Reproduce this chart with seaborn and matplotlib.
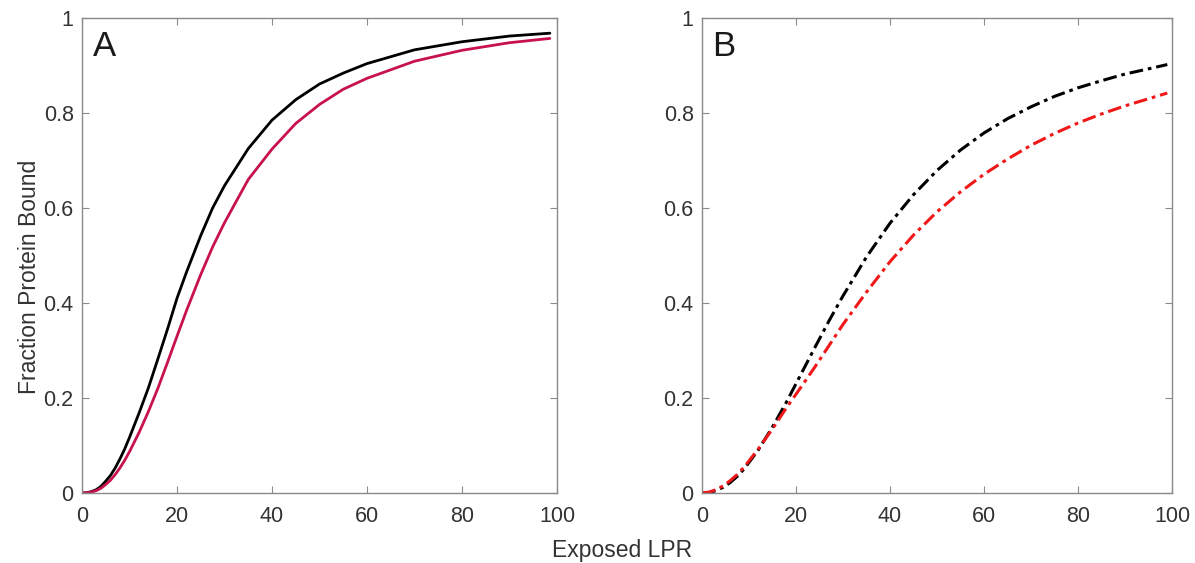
import matplotlib
matplotlib.use("Agg")
import matplotlib.pyplot as plt
import seaborn as sns
import pandas as pd

# Panel A: fraction bound vs exposed LPR (solid curves)
lpr_a = [0, 1, 2, 3, 4, 5, 6, 7, 8, 9, 10, 12, 14, 16, 18, 20, 22, 25, 27.5,
         30, 35, 40, 45, 50, 55, 60, 70, 80, 90, 98.5]
bound_a_black = [0, 0.0005, 0.003, 0.007, 0.014, 0.025, 0.037, 0.053, 0.072,
                 0.093, 0.117, 0.168, 0.222, 0.283, 0.345, 0.41, 0.465, 0.542,
                 0.6, 0.647, 0.725, 0.785, 0.828, 0.861, 0.884, 0.904, 0.933,
                 0.95, 0.962, 0.968]
bound_a_red = [0, 0.0003, 0.002, 0.005, 0.01, 0.018, 0.027, 0.039, 0.053,
               0.069, 0.087, 0.127, 0.172, 0.221, 0.275, 0.33, 0.384, 0.46,
               0.518, 0.569, 0.66, 0.724, 0.778, 0.818, 0.85, 0.873, 0.909,
               0.932, 0.948, 0.957]

# Panel B: fraction bound vs exposed LPR (dash-dot curves)
lpr_b = [0, 1.5, 3, 4.5, 6, 7.5, 9, 12, 15, 18, 21, 24, 27, 30, 35, 40, 45, 50,
         55, 60, 65, 70, 75, 80, 85, 90, 95, 99]
bound_b_black = [0, 0.001, 0.005, 0.012, 0.022, 0.035, 0.051, 0.091, 0.139,
                 0.192, 0.249, 0.306, 0.362, 0.415, 0.497, 0.568, 0.628, 0.679,
                 0.722, 0.758, 0.788, 0.813, 0.835, 0.853, 0.868, 0.882, 0.893,
                 0.902]
bound_b_red = [0, 0.002, 0.007, 0.015, 0.026, 0.039, 0.055, 0.093, 0.135,
               0.18, 0.222, 0.265, 0.31, 0.355, 0.423, 0.487, 0.543, 0.592,
               0.634, 0.671, 0.703, 0.732, 0.757, 0.779, 0.798, 0.815, 0.83,
               0.842]

x_ticks = [0, 20, 40, 60, 80, 100]
y_ticks = [0, 0.2, 0.4, 0.6, 0.8, 1]
y_tick_labels = ["0", "0.2", "0.4", "0.6", "0.8", "1"]
panel_letters = ["A", "B"]
x_label = "Exposed LPR"
y_label = "Fraction Protein Bound"

sns.set_theme(style="white")
plt.rcParams["font.family"] = ["Liberation Sans", "DejaVu Sans"]

W, H = 1195, 563
fig = plt.figure(figsize=(W / 100, H / 100), dpi=100)
ax_a = fig.add_axes([82 / W, (H - 493) / H, 475 / W, 475 / H])
ax_b = fig.add_axes([702 / W, (H - 493) / H, 470 / W, 475 / H])

df_a = pd.DataFrame({"lpr": lpr_a, "black": bound_a_black, "red": bound_a_red})
df_b = pd.DataFrame({"lpr": lpr_b, "black": bound_b_black, "red": bound_b_red})

sns.lineplot(data=df_a, x="lpr", y="black", ax=ax_a, color="black",
             linewidth=2.0, estimator=None, sort=False)
sns.lineplot(data=df_a, x="lpr", y="red", ax=ax_a, color="#c8124c",
             linewidth=2.0, estimator=None, sort=False)

dashdot = (0, (4.5, 1.6, 1.2, 1.6))
sns.lineplot(data=df_b, x="lpr", y="black", ax=ax_b, color="black",
             linewidth=2.2, estimator=None, sort=False, linestyle=dashdot)
sns.lineplot(data=df_b, x="lpr", y="red", ax=ax_b, color="#f01818",
             linewidth=2.2, estimator=None, sort=False, linestyle=dashdot)

spine_col = "#8a8a8a"
text_col = "#333333"
for ax, letter in zip([ax_a, ax_b], panel_letters):
    ax.set_xlim(0, 100)
    ax.set_ylim(0, 1)
    ax.set_xticks(x_ticks)
    ax.set_yticks(y_ticks)
    ax.set_yticklabels(y_tick_labels)
    ax.set_xlabel("")
    ax.set_ylabel("")
    for s in ax.spines.values():
        s.set_color(spine_col)
        s.set_linewidth(1.0)
    ax.tick_params(direction="in", length=5, width=0.8, color=spine_col,
                   top=True, right=True, bottom=True, left=True,
                   labelsize=15.5, labelcolor=text_col)
    ax.tick_params(axis="x", pad=9)
    ax.tick_params(axis="y", pad=6)
    ax.text(0.022, 0.975, letter, transform=ax.transAxes, fontsize=25,
            ha="left", va="top", color="#1a1a1a")

fig.text(30 / W, 1 - 277 / H, y_label, rotation=90, ha="center",
         va="center", fontsize=16.5, color=text_col)
fig.text(622 / W, 1 - 550 / H, x_label, ha="center", va="center",
         fontsize=16.5, color=text_col)

fig.savefig("out.png", dpi=100)
